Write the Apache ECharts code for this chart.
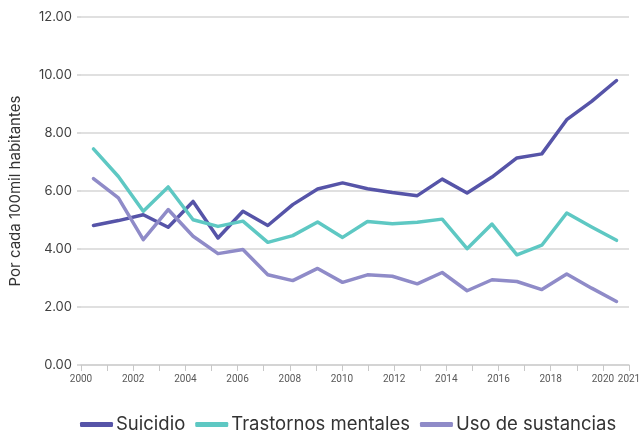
<!DOCTYPE html>
<html>
<head>
<meta charset="utf-8">
<script src="https://cdn.jsdelivr.net/npm/echarts@6/dist/echarts.min.js"></script>
<style>
  html, body { margin: 0; padding: 0; background: #fff; }
  #chart { width: 644px; height: 433px; }
</style>
</head>
<body>
<div id="chart"></div>
<script>
// años (un punto por año)
var years = ['2000', '2001', '2002', '2003', '2004', '2005', '2006', '2007', '2008', '2009', '2010',
    '2011', '2012', '2013', '2014', '2015', '2016', '2017', '2018', '2019', '2020', '2021'];
// tasas por cada 100mil habitantes
var suicidio = [4.81, 4.98, 5.18, 4.75, 5.64, 4.38, 5.30, 4.81, 5.53, 6.07, 6.28,
    6.08, 5.95, 5.84, 6.41, 5.93, 6.48, 7.14, 7.28, 8.46, 9.09, 9.81];
var trastornos = [7.45, 6.50, 5.30, 6.14, 5.01, 4.78, 4.96, 4.23, 4.46, 4.93, 4.40,
    4.95, 4.87, 4.92, 5.03, 4.01, 4.86, 3.80, 4.13, 5.24, 4.76, 4.30];
var sustancias = [6.43, 5.76, 4.32, 5.36, 4.44, 3.84, 3.98, 3.11, 2.91, 3.33, 2.85,
    3.11, 3.06, 2.80, 3.19, 2.56, 2.94, 2.88, 2.60, 3.14, 2.65, 2.19];
// etiquetas del eje x
var xLabels = [2000, 2002, 2004, 2006, 2008, 2010, 2012, 2014, 2016, 2018, 2020, 2021];

var chart = echarts.init(document.getElementById('chart'));
var font = 'Inter, "Noto Sans", sans-serif';

function linea(name, data, color) {
    return {
        name: name,
        type: 'line',
        xAxisIndex: 1,
        data: data,
        showSymbol: false,
        symbol: 'none',
        lineStyle: { color: color, width: 3.5, cap: 'round', join: 'round' },
        itemStyle: { color: color },
        animation: false
    };
}

chart.setOption({
    backgroundColor: '#fff',
    textStyle: { fontFamily: font },
    grid: { left: 81, right: 15, top: 17, bottom: 68 },
    legend: {
        left: 75,
        top: 410,
        icon: 'roundRect',
        itemWidth: 33,
        itemHeight: 5,
        itemGap: 10,
        textStyle: { fontSize: 18.5, color: '#333', fontFamily: font, padding: [0, 0, 0, -2] },
        data: ['Suicidio', 'Trastornos mentales', 'Uso de sustancias']
    },
    xAxis: [{
        type: 'value',
        min: 2000,
        max: 2021,
        interval: 1,
        axisLine: { lineStyle: { color: '#d0d0d0', width: 1.5 } },
        axisTick: { length: 6, lineStyle: { color: '#c8c8c8', width: 1 } },
        splitLine: { show: false },
        axisLabel: {
            color: '#595959',
            fontSize: 10,
            fontFamily: 'Roboto, sans-serif',
            margin: 9,
            showMaxLabel: true,
            formatter: function (v) {
                return xLabels.indexOf(v) >= 0 ? String(v) : '';
            }
        }
    }, {
        type: 'category',
        data: years,
        boundaryGap: true,
        show: false
    }],
    yAxis: {
        type: 'value',
        min: 0,
        max: 12,
        interval: 2,
        name: 'Por cada 100mil habitantes',
        nameLocation: 'middle',
        nameGap: 58,
        nameTextStyle: { fontSize: 15, color: '#333' },
        axisLine: { show: false },
        axisTick: { show: true, length: 4, lineStyle: { color: '#d0d0d0', width: 1.5 } },
        splitLine: { lineStyle: { color: '#d6d6d6', width: 1.5 } },
        axisLabel: {
            color: '#404040',
            fontSize: 13,
            margin: 9,
            formatter: function (v) { return v.toFixed(2); }
        }
    },
    series: [
        linea('Suicidio', suicidio, '#5654a8'),
        linea('Trastornos mentales', trastornos, '#5ec8c3'),
        linea('Uso de sustancias', sustancias, '#8f8bc8')
    ]
});
</script>
</body>
</html>
